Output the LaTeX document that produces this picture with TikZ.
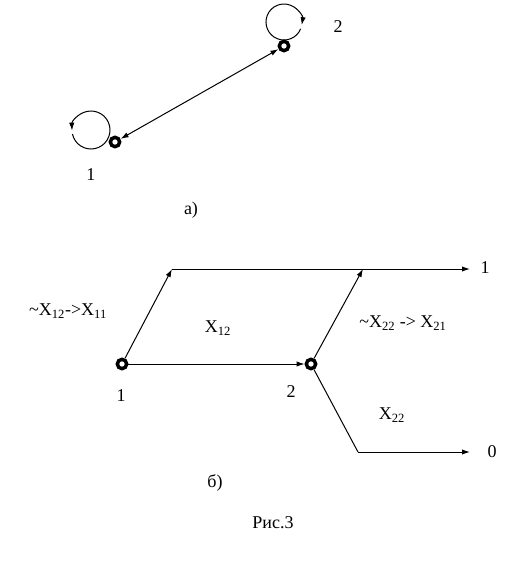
\documentclass[tikz,border=0pt]{standalone}
\usepackage{fontspec}
\setmainfont{Liberation Serif}
\usepackage{tikz}
\usetikzlibrary{arrows.meta}

\begin{document}
\begin{tikzpicture}[x=0.75pt, y=-0.75pt,
		ring/.style={circle, draw, line width=2.6pt, inner sep=0pt, minimum size=7pt},
		lbl/.style={font=\fontsize{13.5}{15}\selectfont, inner sep=0pt},
		tip/.style={-{Latex[length=6pt, width=4pt]}},
		arr/.style={tip, line width=0.75pt}]
				\useasboundingbox (0,0) rectangle (526,562);
				% a) graph of two states
				\node[ring] (t1) at (115,142) {};
				\node[ring] (t2) at (284,46) {};
				\draw[arr] (284,22) ++(22:18) arc (22:370:18);
				\draw[arr] (91,130) ++(168:19) arc (528:178:19);
				\draw[{Latex[length=6pt, width=4pt]}-{Latex[length=6pt, width=4pt]}, line width=0.75pt] (t1) -- (t2);
				\node[lbl] (t1l) at (91,175) {1};
				\node[lbl] (t2l) at (338,27) {2};
				\node[lbl] (la) at (191,210) {а)};
				% b) transitions
				\node[ring] (b1) at (122,364) {};
				\node[ring] (b2) at (311,364) {};
				\coordinate (c1) at (172,269);
				\coordinate (c2) at (363,269);
				\coordinate (e1) at (470,269);
				\coordinate (c3) at (358,452);
				\coordinate (e0) at (470,452);
				\draw[arr] (b1) -- (c1);
				\draw[arr] (b2) -- (c2);
				\draw[arr] (c1) -- (e1);
				\draw[arr] (b1) -- (b2);
				\draw[line width=0.75pt] (b2) -- (c3);
				\draw[arr] (c3) -- (e0);
				\node[lbl] (b1l) at (121,396) {1};
				\node[lbl] (b2l) at (291,392) {2};
				\node[lbl] (o1) at (485,268) {1};
				\node[lbl] (o0) at (492,452) {0};
				\node[lbl] (x11) at (68,311) {\textasciitilde X\textsubscript{12}->X\textsubscript{11}};
				\node[lbl] (x12) at (218,328) {X\textsubscript{12}};
				\node[lbl] (x21) at (403,323) {\textasciitilde X\textsubscript{22} -> X\textsubscript{21}};
				\node[lbl] (x22) at (392,415) {X\textsubscript{22}};
				\node[lbl] (lb) at (215,483) {б)};
				\node[lbl] (cap) at (273,523) {Рис.3};
\end{tikzpicture}
\end{document}
